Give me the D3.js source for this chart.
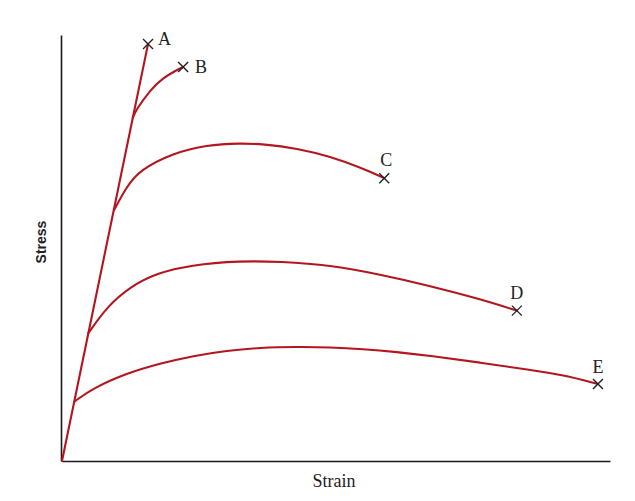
<!DOCTYPE html>
<html>
<head>
<meta charset="utf-8">
<script src="https://cdn.jsdelivr.net/npm/d3@7"></script>
<style>
  html, body { margin: 0; padding: 0; background: #ffffff; }
  svg { display: block; }
</style>
</head>
<body>
<svg id="chart" width="635" height="501"></svg>
<script>
// ---- Data (strain, stress) in relative units 0–100 ----
const curveNames = ["A", "B", "C", "D", "E"];
const curveA = [[0, 0], [15.7, 97.9]];
const curveB = [[12.9, 80.5], [13.5, 82.4], [16.1, 87.1], [18.4, 89.9], [21.0, 91.8], [22.1, 92.5]];
const curveC = [[9.5, 58.9], [11.8, 64.4], [14.2, 68.3], [20.3, 72.3], [26.4, 74.2], [32.5, 74.6],
                [36.7, 74.4], [42.9, 73.4], [48.9, 71.5], [54.9, 68.7], [58.8, 66.4]];
const curveD = [[4.8, 30.0], [8.2, 36.2], [12.4, 40.9], [17.3, 44.1], [23.4, 46.0], [32.5, 47.0],
                [39.8, 46.8], [48.9, 46.0], [58.0, 43.8], [67.2, 41.1], [76.3, 38.0], [83.0, 35.3]];
const curveE = [[2.2, 13.9], [5.7, 17.1], [11.8, 20.6], [17.9, 22.9], [24.0, 24.7], [30.1, 25.9],
                [36.1, 26.6], [42.9, 26.8], [48.9, 26.7], [54.9, 26.3], [61.1, 25.6], [67.2, 24.7],
                [76.3, 23.1], [85.4, 21.4], [91.4, 20.2], [97.8, 18.1]];
const xLabel = "Strain";
const yLabel = "Stress";

const curves = [curveA, curveB, curveC, curveD, curveE];

// ---- Layout ----
const svg = d3.select("#chart");
const x = d3.scaleLinear().domain([0, 100]).range([62, 610]);
const y = d3.scaleLinear().domain([0, 100]).range([461, 35]);

const red = "#b3161f";
const ink = "#222";
const serif = "'Liberation Serif', 'Times New Roman', serif";

// label placement relative to the fracture mark (layout, not data)
const labelOffset = [[10, 1, "start"], [12, 6, "start"], [2, -12, "middle"], [0, -12, "middle"], [0, -11, "middle"]];

// axes (no ticks)
svg.append("g")
  .attr("transform", `translate(0,${y(0)})`)
  .call(d3.axisBottom(x).tickValues([]).tickSizeOuter(0))
  .call(g => g.select(".domain").attr("stroke", "#1a1a1a").attr("stroke-width", 1.6));
svg.append("g")
  .attr("transform", `translate(${x(0) - 1},0)`)
  .call(d3.axisLeft(y).tickValues([]).tickSizeOuter(0))
  .call(g => g.select(".domain").attr("stroke", "#1a1a1a").attr("stroke-width", 1.6));

// curves
const line = d3.line()
  .x(d => x(d[0]))
  .y(d => y(d[1]))
  .curve(d3.curveBasis);

curves.forEach(c => {
  svg.append("path")
    .datum(c)
    .attr("d", line)
    .attr("fill", "none")
    .attr("stroke", red)
    .attr("stroke-width", 2.1)
    .attr("stroke-linecap", "round");
});

// fracture marks (×) and labels
const cross = 5;
curves.forEach((c, i) => {
  const end = c[c.length - 1];
  const cx = x(end[0]), cy = y(end[1]);
  const g = svg.append("g");
  g.append("line").attr("x1", cx - cross).attr("y1", cy - cross).attr("x2", cx + cross).attr("y2", cy + cross)
    .attr("stroke", ink).attr("stroke-width", 1.4);
  g.append("line").attr("x1", cx - cross).attr("y1", cy + cross).attr("x2", cx + cross).attr("y2", cy - cross)
    .attr("stroke", ink).attr("stroke-width", 1.4);
  const [dx, dy, anchor] = labelOffset[i];
  g.append("text")
    .attr("x", cx + dx)
    .attr("y", cy + dy)
    .attr("text-anchor", anchor)
    .attr("font-family", serif)
    .attr("font-size", 18)
    .attr("fill", ink)
    .text(curveNames[i]);
});

// axis labels
svg.append("text")
  .attr("x", 334).attr("y", 487)
  .attr("text-anchor", "middle")
  .attr("font-family", serif)
  .attr("font-size", 18)
  .attr("fill", ink)
  .text(xLabel);
svg.append("text")
  .attr("transform", "translate(46,242) rotate(-90)")
  .attr("text-anchor", "middle")
  .attr("font-family", "'Liberation Sans', Arial, sans-serif")
  .attr("font-weight", "bold")
  .attr("font-size", 14)
  .attr("fill", ink)
  .text(yLabel);
</script>
</body>
</html>
